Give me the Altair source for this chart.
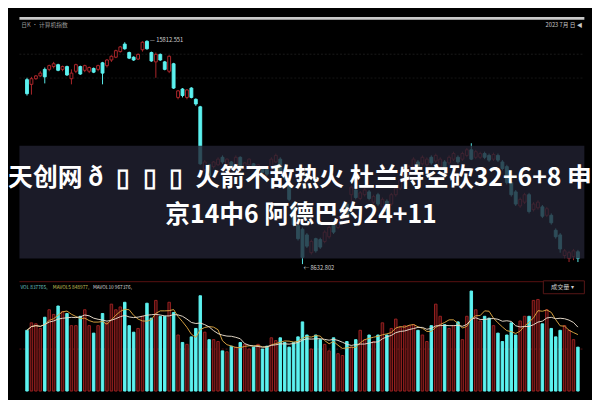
import altair as alt
import pandas as pd

# ---- candle data (index points) ----
opens = [14550, 14400, 14580, 14670, 14880, 14880, 14970, 15030, 14880, 14970,
         14580, 14820, 14970, 14850, 14820, 14910, 14880, 15090, 15000, 15180,
         15270, 15450, 15690, 15420, 15270, 15210, 15510, 15780, 15420, 15120,
         15360, 15120, 14820, 15060, 13980, 14250, 13980, 14280, 13920, 13680,
         11670, 11820, 11760, 11820, 12060, 11820, 11910, 11820, 12060, 11700,
         11820, 11850, 11670, 11700, 11670, 11700, 11910, 12000, 11670, 11310,
         10560, 9870, 9750, 9570, 9000, 9450, 9420, 9360, 9510, 9900,
         9810, 10110, 10560, 10860, 11010, 10740, 10860, 10950, 10620, 10860,
         10470, 10650, 10560, 10860, 11070, 11280, 11520, 11760, 11910, 11850,
         11820, 12060, 11940, 11760, 11910, 11880, 12000, 12060, 12000, 12120,
         12300, 12060, 12060, 12180, 12120, 12000, 12120, 11910, 11760, 11250,
         10950, 10500, 10620, 10860, 10380, 10440, 10470, 10200, 10200, 9720,
         9570, 8910, 8820, 8880, 9030]
closes = [14100, 14580, 14670, 14760, 14640, 15000, 15060, 14850, 14970, 14700,
          14760, 15030, 14730, 15000, 14940, 14790, 15000, 14760, 15180, 15300,
          15480, 15600, 15540, 15240, 15180, 15360, 15750, 15540, 15150, 15360,
          15180, 14880, 15300, 14280, 14190, 14040, 14220, 13980, 13770, 11850,
          11910, 11460, 11910, 12000, 11910, 12000, 11760, 12060, 11700, 11880,
          12000, 11730, 11820, 11580, 11520, 12000, 12120, 11610, 11400, 10710,
          9900, 9450, 8850, 9210, 9360, 9060, 9180, 9660, 9810, 9660,
          10110, 10410, 10260, 11100, 10770, 10920, 11010, 10740, 10800, 10560,
          10710, 10320, 10860, 11070, 11310, 11520, 11760, 12000, 11760, 12060,
          12000, 11880, 12120, 12000, 11700, 12060, 12180, 11910, 12180, 12300,
          12000, 12240, 12180, 12060, 11970, 12150, 11970, 11700, 11250, 10860,
          10560, 10710, 10860, 10320, 10560, 10620, 10170, 10410, 9960, 9510,
          9120, 9060, 9000, 9060, 8820]
highs = [14610, 14640, 14700, 14820, 14940, 15030, 15120, 15060, 15000, 15000,
         14880, 15060, 15000, 15030, 14970, 14940, 15030, 15120, 15210, 15330,
         15510, 15630, 15750, 15450, 15300, 15390, 15780, 15812, 15450, 15420,
         15390, 15150, 15330, 15090, 14220, 14280, 14250, 14310, 13950, 13710,
         11970, 11850, 11940, 12060, 12120, 12030, 11940, 12120, 12090, 11910,
         12030, 11880, 11850, 11730, 11700, 12060, 12180, 12060, 11700, 11340,
         10620, 9900, 9810, 9630, 9420, 9480, 9480, 9720, 9870, 9960,
         10170, 10470, 10620, 11160, 11070, 10980, 11070, 11010, 10860, 10920,
         10770, 10710, 10920, 11130, 11370, 11580, 11820, 12060, 11970, 12120,
         12060, 12120, 12180, 12060, 11970, 12120, 12240, 12120, 12240, 12360,
         12510, 12300, 12240, 12240, 12180, 12210, 12180, 11970, 11820, 11310,
         11010, 10770, 10920, 10920, 10620, 10680, 10530, 10470, 10260, 9780,
         9630, 9120, 9060, 9120, 9090]
lows = [14040, 14070, 14550, 14640, 14430, 14820, 14910, 14820, 14820, 14670,
        14400, 14760, 14700, 14790, 14760, 14760, 14820, 14400, 14940, 15120,
        15240, 15420, 15510, 15210, 15150, 15180, 15450, 15510, 15120, 14610,
        15150, 14850, 14760, 14250, 13920, 13980, 13920, 13950, 13710, 11820,
        11610, 11400, 11700, 11790, 11850, 11760, 11730, 11760, 11670, 11670,
        11760, 11700, 11610, 11520, 11460, 11640, 11880, 11580, 11340, 10650,
        9840, 9390, 8633, 9150, 8940, 9000, 9120, 9300, 9450, 9600,
        9750, 10050, 10200, 10560, 10710, 10680, 10800, 10680, 10560, 10500,
        10410, 10260, 10500, 10800, 11010, 11220, 11460, 11700, 11700, 11790,
        11760, 11820, 11880, 11700, 11640, 11820, 11940, 11850, 11940, 12060,
        11970, 12000, 12000, 12000, 11910, 11940, 11910, 11640, 11190, 10800,
        10500, 10440, 10560, 10260, 10320, 10380, 10110, 10140, 9900, 9450,
        9000, 8820, 8700, 8760, 8700]
# ---- volume (thousands) ----
volumes = [975, 1095, 1080, 1005, 1185, 1305, 1230, 1365, 1275, 1245,
           1050, 1050, 1200, 1305, 1050, 930, 1050, 1245, 1095, 1395,
           1305, 1350, 1425, 1050, 945, 1005, 1200, 1410, 1170, 1455,
           1200, 1200, 1425, 1260, 900, 780, 750, 870, 1005, 1530,
           945, 825, 825, 795, 645, 630, 720, 705, 780, 750,
           675, 705, 750, 675, 720, 855, 810, 855, 780, 705,
           780, 870, 1110, 900, 675, 900, 825, 750, 645, 855,
           600, 570, 795, 705, 825, 975, 825, 900, 795, 900,
           1095, 900, 1005, 1155, 1020, 1050, 1050, 1065, 975, 900,
           795, 1050, 1395, 1200, 1065, 1005, 1050, 1110, 825, 1200,
           1605, 1305, 1125, 1200, 1170, 1050, 930, 795, 900, 1095,
           900, 1125, 1200, 1200, 1455, 1470, 1080, 1305, 1005, 870,
           975, 1050, 975, 825, 705]

title_line1 = "天创网 ð\u2002▯\u2002▯\u2002▯\u2002火箭不敌热火 杜兰特空砍32+6+8 申"
title_line2 = "京14中6 阿德巴约24+11"
peak_label = "— 15812.551"
low_label = "← 8632.802"
vol_header = ["VOL 837765,", "MAVOL5 848977,", "MAVOL10 967376,"]

W = 592
H_PRICE = 272
H_VOL = 120
UP = "#b0282c"
CYAN = "#5cf2f0"
FONT = "Noto Sans CJK SC"

df = pd.DataFrame({"i": list(range(len(opens))), "open": opens, "high": highs,
                   "low": lows, "close": closes, "vol": volumes})
dummy = pd.DataFrame({"k": [0]})

xs = alt.Scale(domain=[-0.625, 124.375], nice=False, zero=False)
ys = alt.Scale(domain=[8235, 16560], nice=False, zero=False)
vs = alt.Scale(domain=[0, 1838], nice=False)
is_up = alt.datum.close >= alt.datum.open

X = alt.X("i:Q", scale=xs, axis=None)
base = alt.Chart(df).encode(x=X)


def hline(y, color, dash=None, w=1):
    kw = dict(color=color, strokeWidth=w)
    if dash:
        kw["strokeDash"] = dash
    return alt.Chart(dummy).mark_rule(**kw).encode(
        x=alt.value(0), x2=alt.value(W), y=alt.value(y))


def label(txt, x, y, color, size=6, align="left"):
    return alt.Chart(dummy).mark_text(font=FONT, fontSize=size, color=color,
                                      align=align, baseline="middle").encode(
        x=alt.value(x), y=alt.value(y), text=alt.value(txt))


wick = base.mark_rule(strokeWidth=1).encode(
    y=alt.Y("low:Q", scale=ys, axis=None), y2="high:Q",
    color=alt.condition(is_up, alt.value(UP), alt.value(CYAN)))
body = base.mark_bar(size=3.0, strokeWidth=1).encode(
    y=alt.Y("open:Q", scale=ys, axis=None), y2="close:Q",
    fill=alt.condition(is_up, alt.value("#000000"), alt.value(CYAN)),
    stroke=alt.condition(is_up, alt.value(UP), alt.value(CYAN)))

strip = alt.Chart(dummy).mark_rect(color="#c9c9c9").encode(
    x=alt.value(0), x2=alt.value(W), y=alt.value(0), y2=alt.value(3))
band = alt.Chart(dummy).mark_rect(color="#222232", opacity=0.8).encode(
    x=alt.value(0), x2=alt.value(W), y=alt.value(135), y2=alt.value(253))

t1 = alt.Chart(dummy).mark_text(font=FONT, fontSize=26, fontWeight="bold", color="white",
                                align="center", baseline="middle").encode(
    x=alt.value(294), y=alt.value(169), text=alt.value(title_line1))
t2 = alt.Chart(dummy).mark_text(font=FONT, fontSize=26, fontWeight="bold", color="white",
                                align="center", baseline="middle").encode(
    x=alt.value(295), y=alt.value(208), text=alt.value(title_line2))

peak = alt.Chart(pd.DataFrame({"i": [27], "p": [15812], "t": [peak_label]})).mark_text(
    font=FONT, fontSize=6, color="#d0d0d0", align="left", baseline="middle", dx=3).encode(
    x=alt.X("i:Q", scale=xs, axis=None), y=alt.Y("p:Q", scale=ys, axis=None), text="t:N")
low = alt.Chart(pd.DataFrame({"i": [62], "p": [8633], "t": [low_label]})).mark_text(
    font=FONT, fontSize=6, color="#d0d0d0", align="left", baseline="middle", dx=1, dy=4).encode(
    x=alt.X("i:Q", scale=xs, axis=None), y=alt.Y("p:Q", scale=ys, axis=None), text="t:N")

price = alt.layer(
    hline(39, "#1b1b1b", [2, 2]), hline(64, "#161616", [2, 2]),
    wick, body, band, strip, t1, t2, peak, low,
    label("日K · 计算机指数", 2, 8, "#9a9a9a"),
    label("2023 7月 日 ◀", 590, 8, "#c8c8c8", align="right"),
).properties(width=W, height=H_PRICE)

vbase = alt.Chart(df).encode(x=X)
vbars = vbase.mark_bar(size=2.6, strokeWidth=1).encode(
    y=alt.Y("vol:Q", scale=vs, axis=None),
    fill=alt.condition(is_up, alt.value("#3a0a0a"), alt.value(CYAN)),
    stroke=alt.condition(is_up, alt.value("#9b2222"), alt.value(CYAN)))
ma = vbase.transform_window(
    ma5="mean(vol)", frame=[-4, 0], sort=[alt.SortField("i")]
).transform_window(
    ma10="mean(vol)", frame=[-9, 0], sort=[alt.SortField("i")])
ma5 = ma.mark_line(color="#d9a441", strokeWidth=1).encode(y=alt.Y("ma5:Q", scale=vs, axis=None))
ma10 = ma.mark_line(color="#e8dccc", strokeWidth=1).encode(y=alt.Y("ma10:Q", scale=vs, axis=None))

box = alt.Chart(dummy).mark_rect(fill="black", stroke="#5a1818", strokeWidth=1).encode(
    x=alt.value(549), x2=alt.value(592), y=alt.value(4.5), y2=alt.value(18))

vol = alt.layer(
    hline(76, "#5a1515", [2, 2]),
    vbars, ma5, ma10,
    hline(5.4, "#5c1212"),
    box,
    label(vol_header[0], 1, 11.3, "#6fc7c7", size=5),
    label(vol_header[1], 35, 11.3, "#c9c25a", size=5),
    label(vol_header[2], 77, 11.3, "#d8d8d8", size=5),
    label("成交量 ▾", 557, 11.3, "#cfcfcf", size=6.5),
).properties(width=W, height=H_VOL)

chart = alt.vconcat(price, vol, spacing=0).properties(
    padding=0, background="black").configure_view(strokeWidth=0)

chart.save("out.html", embed_options={"renderer": "svg", "actions": False})
